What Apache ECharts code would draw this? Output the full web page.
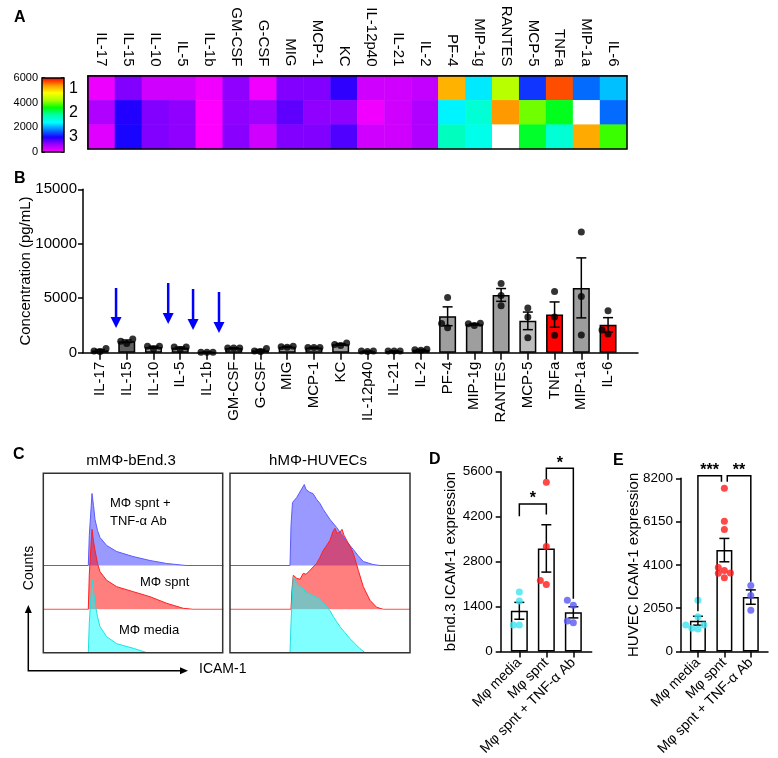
<!DOCTYPE html>
<html>
<head>
<meta charset="utf-8">
<script src="https://cdn.jsdelivr.net/npm/echarts@6/dist/echarts.min.js"></script>
<style>
html, body { margin: 0; padding: 0; background: #fff; }
#main { width: 778px; height: 758px; }
</style>
</head>
<body>
<div id="main"></div>
<script>
// A + B: cytokines in macrophage supernatant
var cytokines = ['IL-17', 'IL-15', 'IL-10', 'IL-5', 'IL-1b', 'GM-CSF', 'G-CSF', 'MIG', 'MCP-1', 'KC',
	'IL-12p40', 'IL-21', 'IL-2', 'PF-4', 'MIP-1g', 'RANTES', 'MCP-5', 'TNFa', 'MIP-1a', 'IL-6'];
var heatRowNames = ['1', '2', '3'];
// heatmap values (pg/mL), one array per row; > 6000 shows white
var heatRep1 = [110, 740, 300, 300, 90, 670, 90, 740, 740, 1100, 300, 300, 380, 5250, 2300, 4300, 1450, 5700, 1700, 2100];
var heatRep2 = [500, 1170, 740, 670, 0, 670, 600, 890, 670, 670, 90, 300, 500, 2350, 2700, 5400, 4000, 3500, 11070, 1700];
var heatRep3 = [200, 1220, 740, 670, 0, 700, 300, 740, 740, 960, 300, 300, 500, 2850, 2550, 6350, 3450, 2700, 5300, 3800];
var heatMax = 6000;
var heatTicks = 2000;

// B: replicate concentrations (pg/mL)
var concRep1 = [100, 1250, 350, 300, 50, 420, 120, 500, 480, 650, 100, 150, 220, 5060, 2500, 6350, 1380, 5610, 11070, 3860];
var concRep2 = [380, 1050, 600, 520, 30, 420, 380, 600, 480, 900, 150, 150, 320, 2300, 2650, 5240, 4110, 3280, 5150, 1720];
var concRep3 = [150, 850, 600, 520, 40, 420, 150, 550, 480, 750, 150, 150, 280, 2670, 2700, 4320, 3280, 1600, 1630, 2090];
var concMax = 15000;
var concTick = 5000;
// blue arrows: category position, start and tip (pg/mL)
var arrowAt = [0.6, 2.55, 3.48, 4.45];
var arrowFrom = [5940, 6400, 5850, 5570];
var arrowTo = [2270, 2640, 2080, 1810];

// C: ICAM-1 histograms, [channel, counts]
var leftAb = [[0, 0], [45, 0], [46, 30], [48.7, 72], [50.2, 60], [51.7, 46], [54.2, 35], [56.7, 28], [63.4, 20], [73.4, 14], [89.7, 9], [106.7, 5], [123.4, 2], [142.7, 0], [180, 0]];
var leftSpnt = [[0, 0], [45, 0], [46, 35], [48.7, 80], [50.2, 68], [51.7, 59], [54.2, 46], [56.7, 37.6], [63.4, 29], [73.4, 22.6], [90, 17.6], [106.7, 12.6], [123.4, 6], [140, 1], [149.7, 0], [180, 0]];
var leftMedia = [[0, 0], [45, 0], [46, 30], [48.7, 73], [50.2, 62], [51.7, 50], [54.2, 36], [56.7, 26], [63.4, 16], [73.4, 9], [90, 4.4], [103.7, 0], [180, 0]];
var rightAb = [[0, 0], [60, 0], [61, 40], [62.5, 63], [66.7, 68], [69, 72], [71, 70], [74.3, 81], [76, 76], [78, 78], [80, 73], [83, 72], [86.7, 66], [90, 62], [93.3, 56], [96, 52], [100, 46], [106.7, 38], [111, 32], [116.7, 24], [123.3, 16], [128, 10], [133.3, 4], [143, 1], [150, 0], [180, 0]];
var rightSpnt = [[0, 0], [61, 0], [62, 20], [63.3, 34], [66.7, 31], [70, 30], [73.3, 36], [76, 35], [80, 39], [86.7, 46], [90, 52], [93.3, 59], [96, 63], [100, 69], [103, 78], [105, 81], [107, 76], [110, 77], [112, 80], [114, 74], [116.7, 69], [120, 63], [123.3, 56], [128.3, 39], [133.3, 22.6], [140, 9], [146.7, 2], [153.3, 0], [180, 0]];
var rightMedia = [[0, 0], [60, 0], [61, 30], [63.3, 76], [65, 72], [66.7, 69], [70, 66], [73.3, 64], [76, 60], [80, 59], [85, 56], [90, 54], [93, 50], [96.7, 46], [100, 42], [103.3, 36], [106.7, 31], [110, 26], [115, 20], [120, 14], [125, 9], [130, 4], [135, 0], [180, 0]];

// D + E: ICAM-1 expression
var groups = ['Mφ media', 'Mφ spnt', 'Mφ spnt + TNF-α Ab'];
var dMedia = [1850, 1570, 820, 820];
var dSpnt = [5274, 3269, 2085, 2208];
var dAb = [1437, 1591, 894, 950];
var dMax = 5600, dTick = 1400;
var eMedia = [2420, 1640, 1250, 1250, 1100, 1060];
var eSpnt = [7732, 6167, 5778, 3976, 3834, 3716, 3483, 3700];
var eAb = [3120, 2650, 1950];
var eMax = 8200, eTick = 2050;
// brackets: [from group, to group, top, left leg end, right leg end]
var dBrackets = [[0, 1, 4595, 4213, 4265], [1, 2, 5705, 5375, 1644]];
var dStars = ['*', '*'];
var eBrackets = [[0, 0.89, 8322, 1900, 8041], [1.11, 2, 8322, 8041, 3300]];
var eStars = ['***', '**'];

var FONT = '"Liberation Sans", Arial, Helvetica, sans-serif';
var LINE = { color: '#000', width: 1.5 };
var plain = function (v) { return String(v); };

function mean(a) {
	return a.reduce(function (s, v) { return s + v; }, 0) / a.length;
}
function sem(a) {
	var m = mean(a);
	var ss = a.reduce(function (s, v) { return s + (v - m) * (v - m); }, 0);
	return Math.sqrt(ss / (a.length - 1)) / Math.sqrt(a.length);
}
// spread overlapping dots sideways, like the prism scatter
function swarm(values, pxY, pxX) {
	var order = values.map(function (v, i) { return i; }).sort(function (a, b) { return values[a] - values[b]; });
	var placed = [], offs = [];
	order.forEach(function (i) {
		var yp = values[i] * pxY;
		for (var k = 0; k < 9; k++) {
			var xo = (k === 0 ? 0 : (k % 2 ? -1 : 1) * Math.ceil(k / 2)) * 6;
			var ok = placed.every(function (p) { return Math.hypot(p[0] - xo, p[1] - yp) >= 5.5; });
			if (ok || k === 8) { placed.push([xo, yp]); offs[i] = xo / pxX; break; }
		}
	});
	return offs;
}

function errorItem(params, api) {
	var top = api.coord([api.value(0), api.value(2)]);
	var bot = api.coord([api.value(0), api.value(1)]);
	var w = 5, st = { stroke: '#000', lineWidth: 1.5 };
	return {
		type: 'group', children: [
			{ type: 'line', shape: { x1: top[0], y1: top[1], x2: bot[0], y2: bot[1] }, style: st },
			{ type: 'line', shape: { x1: top[0] - w, y1: top[1], x2: top[0] + w, y2: top[1] }, style: st },
			{ type: 'line', shape: { x1: bot[0] - w, y1: bot[1], x2: bot[0] + w, y2: bot[1] }, style: st }
		]
	};
}
function bracketSeries(xi, yi, list, stars) {
	return {
		type: 'custom', xAxisIndex: xi, yAxisIndex: yi, silent: true, z: 5,
		data: list,
		renderItem: function (params, api) {
			var pL = api.coord([api.value(0), api.value(2)]);
			var pR = api.coord([api.value(1), api.value(2)]);
			var bL = api.coord([api.value(0), api.value(3)]);
			var bR = api.coord([api.value(1), api.value(4)]);
			return {
				type: 'group', children: [
					{ type: 'polyline', shape: { points: [bL, pL, pR, bR] }, style: { stroke: '#000', lineWidth: 1.5, fill: null } },
					{ type: 'text', x: (pL[0] + pR[0]) / 2, y: pL[1] + 3, style: { text: stars[params.dataIndex], font: 'bold 16px ' + FONT, fill: '#000', align: 'center', verticalAlign: 'bottom', textAlign: 'center', textVerticalAlign: 'bottom' } }
				]
			};
		}
	};
}

// ---------- data for the series ----------
var heatData = [];
[heatRep1, heatRep2, heatRep3].forEach(function (row, r) {
	row.forEach(function (v, c) { heatData.push([c, r, v]); });
});

var bColors = cytokines.map(function (name) {
	if (name === 'TNFa' || name === 'IL-6') return '#ff0000';
	if (name === 'MCP-5') return '#bdbdbd';
	if (name === 'IL-15') return '#5f5f5f';
	return '#9e9e9e';
});
var bBars = [], bErr = [], bDots = [];
cytokines.forEach(function (name, i) {
	var reps = [concRep1[i], concRep2[i], concRep3[i]];
	var m = mean(reps), s = sem(reps);
	bBars.push({ value: [i, m], itemStyle: { color: bColors[i] } });
	bErr.push([i, m - s, m + s]);
	var offs = swarm(reps, 163.4 / concMax, 26.74);
	reps.forEach(function (v, k) { bDots.push([i + offs[k], v]); });
});
var bArrows = arrowAt.map(function (x, i) { return [x, arrowFrom[i], arrowTo[i]]; });

var dotColors = ['#3fe5f0', '#ff1a1a', '#5757f2'];
function groupData(sets, pxY, pxX) {
	var bars = [], err = [], dots = [];
	sets.forEach(function (vals, g) {
		var m = mean(vals), s = sem(vals);
		bars.push([g, m]);
		err.push([g, m - s, m + s]);
		var offs = swarm(vals, pxY, pxX);
		vals.forEach(function (v, k) {
			dots.push({ value: [g + offs[k], v], itemStyle: { color: dotColors[g] } });
		});
	});
	return { bars: bars, err: err, dots: dots };
}
var dData = groupData([dMedia, dSpnt, dAb], 181.6 / dMax, 27);
var eData = groupData([eMedia, eSpnt, eAb], 175 / eMax, 26.2);

// ---------- layout ----------
var boxTop = 473.3, boxBottom = 652.7, redBase = 609.3, blueBase = 565.5;
var boxes = [{ left: 43.3, width: 179.4 }, { left: 230, width: 180 }];

var grids = [
	{ left: 88, top: 76, width: 539, height: 73, show: true, z: 10, borderColor: '#000', borderWidth: 1.5, backgroundColor: 'transparent' },
	{ left: 42, top: 78, width: 22, height: 74, show: true, z: 10, borderColor: '#000', borderWidth: 1.5, backgroundColor: 'transparent' },
	{ left: 83, top: 189.3, width: 555, height: 163.4 }
];
var xAxes = [
	{
		type: 'category', gridIndex: 0, data: cytokines, position: 'top',
		axisLine: { lineStyle: LINE }, axisTick: { alignWithLabel: true, length: 7, lineStyle: LINE },
		axisLabel: { interval: 0, rotate: 90, margin: 9.5, fontSize: 15, color: '#000', fontFamily: FONT }
	},
	{ type: 'value', gridIndex: 1, min: 0, max: 1, show: false },
	{
		type: 'value', gridIndex: 2, min: -0.636, max: 20.12,
		axisLine: { onZero: false, lineStyle: LINE }, splitLine: { show: false },
		axisTick: { customValues: cytokines.map(function (n, i) { return i; }), length: 7, lineStyle: LINE },
		axisLabel: {
			customValues: cytokines.map(function (n, i) { return i; }), rotate: 90, margin: 9,
			fontSize: 15, color: '#000', fontFamily: FONT,
			formatter: function (v) { return cytokines[Math.round(v)]; }
		}
	}
];
var yAxes = [
	{
		type: 'category', gridIndex: 0, data: heatRowNames, inverse: true,
		axisLine: { lineStyle: LINE }, axisTick: { alignWithLabel: true, length: 7, lineStyle: LINE },
		axisLabel: { margin: 10, fontSize: 16, color: '#000', fontFamily: FONT }
	},
	{
		type: 'value', gridIndex: 1, min: 0, max: heatMax, interval: heatTicks,
		axisLine: { show: false }, splitLine: { show: false },
		axisTick: { inside: true, length: 3, lineStyle: LINE },
		axisLabel: { margin: 4, fontSize: 11, color: '#000', fontFamily: FONT, formatter: plain }
	},
	{
		type: 'value', gridIndex: 1, min: 0, max: heatMax, interval: heatTicks, position: 'right',
		axisLine: { show: false }, splitLine: { show: false },
		axisTick: { inside: true, length: 3, lineStyle: LINE }, axisLabel: { show: false }
	},
	{
		type: 'value', gridIndex: 2, min: 0, max: concMax, interval: concTick,
		axisLine: { show: true, onZero: false, lineStyle: LINE }, splitLine: { show: false },
		axisTick: { show: true, length: 5, lineStyle: LINE },
		axisLabel: { margin: 6, fontSize: 15, color: '#000', fontFamily: FONT, formatter: plain },
		name: 'Concentration (pg/mL)', nameLocation: 'middle', nameGap: 50, nameMoveOverlap: false,
		nameTextStyle: { fontSize: 15, color: '#000', fontFamily: FONT }
	}
];

var series = [
	{
		type: 'heatmap', xAxisIndex: 0, yAxisIndex: 0, data: heatData,
		itemStyle: { borderWidth: 0 }, emphasis: { disabled: true }
	},
	{
		type: 'bar', xAxisIndex: 2, yAxisIndex: 3, barWidth: 17, data: bBars,
		itemStyle: { borderColor: '#000', borderWidth: 1.5 }, silent: true
	},
	{ type: 'custom', xAxisIndex: 2, yAxisIndex: 3, data: bErr, renderItem: errorItem, silent: true, z: 3 },
	{
		type: 'scatter', xAxisIndex: 2, yAxisIndex: 3, data: bDots, symbolSize: 7,
		itemStyle: { color: '#000' }, silent: true, z: 4
	},
	{
		type: 'custom', xAxisIndex: 2, yAxisIndex: 3, data: bArrows, silent: true, z: 5,
		renderItem: function (params, api) {
			var top = api.coord([api.value(0), api.value(1)]);
			var tip = api.coord([api.value(0), api.value(2)]);
			var head = 11, half = 5.5;
			return {
				type: 'group', children: [
					{ type: 'line', shape: { x1: top[0], y1: top[1], x2: tip[0], y2: tip[1] - head + 1 }, style: { stroke: '#0000ff', lineWidth: 2.5 } },
					{ type: 'polygon', shape: { points: [[tip[0] - half, tip[1] - head], [tip[0] + half, tip[1] - head], [tip[0], tip[1]]] }, style: { fill: '#0000ff' } }
				]
			};
		}
	}
];

// C: three stacked grids per box so each histogram fills down to its own baseline
var hist = [[leftAb, leftSpnt, leftMedia], [rightAb, rightSpnt, rightMedia]];
var histStyle = [
	{ line: '#5a5aff', fill: 'rgba(0,0,255,0.4)', base: blueBase },
	{ line: '#ff2020', fill: 'rgba(255,0,0,0.5)', base: redBase },
	{ line: '#20e0e0', fill: 'rgba(0,255,255,0.5)', base: boxBottom }
];
boxes.forEach(function (box, b) {
	histStyle.forEach(function (hs, k) {
		var g = grids.length;
		var h = hs.base - boxTop;
		var grid = { left: box.left, top: boxTop, width: box.width, height: h };
		if (k === 2) {
			grid.show = true; grid.z = 10; grid.borderColor = '#333'; grid.borderWidth = 1.5; grid.backgroundColor = 'transparent';
		}
		grids.push(grid);
		xAxes.push({ type: 'value', gridIndex: g, min: 0, max: box.width, show: false });
		yAxes.push({ type: 'value', gridIndex: g, min: 0, max: h, show: false });
		series.push({
			type: 'line', xAxisIndex: xAxes.length - 1, yAxisIndex: yAxes.length - 1,
			data: hist[b][k], showSymbol: false, symbol: 'none', silent: true,
			lineStyle: { color: hs.line, width: 1 },
			areaStyle: { color: hs.fill, opacity: 1 }
		});
	});
});

// D and E
function addGroupPanel(gridOpt, xMin, xMax, yMax, yTick, yName, nameGap, data, brackets, stars, barWidth) {
	var g = grids.length;
	grids.push(gridOpt);
	xAxes.push({
		type: 'value', gridIndex: g, min: xMin, max: xMax,
		axisLine: { onZero: false, lineStyle: LINE }, splitLine: { show: false },
		axisTick: { customValues: [0, 1, 2], length: 6, lineStyle: LINE },
		axisLabel: {
			customValues: [0, 1, 2], rotate: 45, margin: 9, fontSize: 14, color: '#000', fontFamily: FONT,
			formatter: function (v) { return groups[Math.round(v)]; }
		}
	});
	yAxes.push({
		type: 'value', gridIndex: g, min: 0, max: yMax, interval: yTick,
		axisLine: { show: true, onZero: false, lineStyle: LINE }, splitLine: { show: false },
		axisTick: { show: true, length: 5, lineStyle: LINE },
		axisLabel: { margin: 8, fontSize: 13.5, color: '#000', fontFamily: FONT, formatter: plain },
		name: yName, nameLocation: 'middle', nameGap: nameGap, nameMoveOverlap: false,
		nameTextStyle: { fontSize: 15, color: '#000', fontFamily: FONT }
	});
	var xi = xAxes.length - 1, yi = yAxes.length - 1;
	series.push(
		{
			type: 'bar', xAxisIndex: xi, yAxisIndex: yi, barWidth: barWidth, data: data.bars, silent: true,
			itemStyle: { color: '#fff', borderColor: '#000', borderWidth: 1.5 }
		},
		{ type: 'custom', xAxisIndex: xi, yAxisIndex: yi, data: data.err, renderItem: errorItem, silent: true, z: 3 },
		{ type: 'scatter', xAxisIndex: xi, yAxisIndex: yi, data: data.dots, symbolSize: 7, silent: true, z: 4 },
		bracketSeries(xi, yi, brackets, stars)
	);
}
addGroupPanel({ left: 500.7, top: 471.7, width: 91, height: 181.6 }, -0.69, 2.68, dMax, dTick,
	'bEnd.3 ICAM-1 expression', 42, dData, dBrackets, dStars, 17);
addGroupPanel({ left: 681, top: 478.3, width: 87, height: 175 }, -0.64, 2.65, eMax, eTick,
	'HUVEC ICAM-1 expression', 40, eData, eBrackets, eStars, 16);

// labels and arrows that are not part of any axis
function txt(text, x, y, size, opts) {
	opts = opts || {};
	return {
		type: 'text', x: x, y: y, rotation: opts.rotation || 0, silent: true, z: 20,
		style: {
			text: text, font: (opts.bold ? 'bold ' : '') + size + 'px ' + FONT, fill: '#000',
			align: opts.align || 'left', verticalAlign: 'middle',
			textAlign: opts.align || 'left', textVerticalAlign: 'middle'
		}
	};
}
var graphics = [
	txt('A', 14, 18, 16, { bold: true }),
	txt('B', 14, 179, 16, { bold: true }),
	txt('C', 13, 455, 16, { bold: true }),
	txt('D', 429, 460, 16, { bold: true }),
	txt('E', 613, 460.5, 16, { bold: true }),
	txt('mMΦ-bEnd.3', 131, 461, 15, { align: 'center' }),
	txt('hMΦ-HUVECs', 318, 461, 15, { align: 'center' }),
	txt('MΦ spnt +', 110, 503, 13),
	txt('TNF-α Ab', 110, 521, 13),
	txt('MΦ spnt', 140, 582, 13),
	txt('MΦ media', 119, 630, 13),
	txt('Counts', 29, 568, 14, { align: 'center', rotation: Math.PI / 2 }),
	txt('ICAM-1', 199, 669, 14),
	{ type: 'polyline', silent: true, shape: { points: [[28.3, 612], [28.3, 670.7], [181, 670.7]] }, style: { stroke: '#000', lineWidth: 1.5, fill: null } },
	{ type: 'polygon', silent: true, shape: { points: [[24.8, 613], [31.8, 613], [28.3, 605]] }, style: { fill: '#000' } },
	{ type: 'polygon', silent: true, shape: { points: [[180, 667.2], [180, 674.2], [188, 670.7]] }, style: { fill: '#000' } }
];

var chart = echarts.init(document.getElementById('main'));
chart.setOption({
	animation: false,
	backgroundColor: '#fff',
	textStyle: { fontFamily: FONT },
	grid: grids,
	xAxis: xAxes,
	yAxis: yAxes,
	visualMap: {
		type: 'continuous', seriesIndex: 0, min: 0, max: heatMax, range: [0, heatMax - 0.01],
		calculable: false, show: true, text: null, padding: 0,
		left: 42, top: 78, itemWidth: 22, itemHeight: 74,
		inRange: { color: ['#ff00ff', '#a000ff', '#1a00ff', '#0080ff', '#00ffff', '#00ffaa', '#00ff00', '#aaff00', '#ffff00', '#ff9900', '#ff0000'] },
		outOfRange: { color: '#ffffff' }
	},
	graphic: graphics,
	series: series
});
</script>
</body>
</html>
